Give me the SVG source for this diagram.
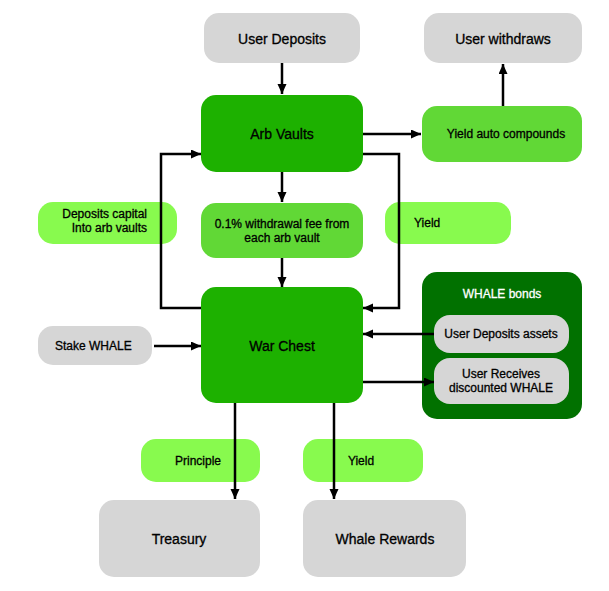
<svg xmlns="http://www.w3.org/2000/svg" width="609" height="591" viewBox="0 0 609 591">
<defs>
<marker id="ah" markerUnits="userSpaceOnUse" markerWidth="11" markerHeight="10" refX="10" refY="4.5" orient="auto">
<path d="M0,0 L10,4.5 L0,9 z" fill="#000"/>
</marker>
</defs>
<style>
text{font-family:"Liberation Sans",Arial,sans-serif;fill:#000;stroke:#000;stroke-width:0.3}
.big{font-size:14px}
.sm{font-size:12px}
.c{text-anchor:middle}
.r{text-anchor:end}
.gray{fill:#d6d6d6}
.dk{fill:#1db100}
.md{fill:#61d836}
.lt{fill:#88fa4e}
.bond{fill:#017100}
.wt{fill:#fff;stroke:#fff}
.conn path{fill:none;stroke:#000;stroke-width:2.5;marker-end:url(#ah)}
</style>
<rect width="609" height="591" fill="#fff"/>
<g id="user-deposits"><rect class="gray" x="204" y="13" width="156" height="50" rx="15"/><text class="big c" x="282" y="44">User Deposits</text></g>
<g id="user-withdraws"><rect class="gray" x="424" y="13" width="158" height="50" rx="15"/><text class="big c" x="503" y="44">User withdraws</text></g>
<g id="arb-vaults"><rect class="dk" x="201" y="95" width="162" height="77" rx="15"/><text class="big c" x="282" y="139">Arb Vaults</text></g>
<g id="yield-auto"><rect class="md" x="422" y="106" width="160" height="56" rx="15"/><text class="sm c" x="506" y="138">Yield auto compounds</text></g>
<g id="deposits-capital"><rect class="lt" x="38" y="202" width="139" height="42" rx="15"/><text class="sm r" x="147" y="218">Deposits capital</text><text class="sm r" x="147" y="232">Into arb vaults</text></g>
<g id="fee"><rect class="md" x="201" y="203" width="162" height="55" rx="15"/><text class="sm c" x="282" y="228">0.1% withdrawal fee from</text><text class="sm c" x="282" y="242">each arb vault</text></g>
<g id="yield-mid"><rect class="lt" x="385" y="202" width="126" height="42" rx="15"/><text class="sm" x="414" y="227">Yield</text></g>
<g id="war-chest"><rect class="dk" x="201" y="287" width="162" height="116" rx="15"/><text class="big c" x="282" y="351">War Chest</text></g>
<g id="whale-bonds"><rect class="bond" x="422" y="272" width="160" height="147" rx="15"/><text class="sm c wt" x="502" y="298">WHALE bonds</text>
<g id="user-deposits-assets"><rect class="gray" x="434" y="315" width="135" height="38" rx="16"/><text class="sm c" x="501" y="338">User Deposits assets</text></g>
<g id="user-receives"><rect class="gray" x="434" y="358" width="135" height="46" rx="16"/><text class="sm c" x="501" y="378">User Receives</text><text class="sm c" x="501" y="392">discounted WHALE</text></g>
</g>
<g id="stake-whale"><rect class="gray" x="38" y="326" width="114" height="39" rx="15"/><text class="sm" x="55" y="350">Stake WHALE</text></g>
<g id="principle"><rect class="lt" x="141" y="439" width="119" height="43" rx="15"/><text class="sm c" x="198" y="465">Principle</text></g>
<g id="yield-bottom"><rect class="lt" x="303" y="439" width="120" height="43" rx="15"/><text class="sm c" x="361" y="465">Yield</text></g>
<g id="treasury"><rect class="gray" x="99" y="500" width="161" height="77" rx="15"/><text class="big c" x="179" y="544">Treasury</text></g>
<g id="whale-rewards"><rect class="gray" x="303" y="500" width="163" height="77" rx="15"/><text class="big c" x="385" y="544">Whale Rewards</text></g>
<g id="connectors" class="conn">
<path d="M282,63 V94"/>
<path d="M363,134 H421"/>
<path d="M503,106 V64"/>
<path d="M282,172 V202"/>
<path d="M282,258 V287"/>
<path d="M201,308 H161 V154 H201"/>
<path d="M363,154 H399 V308 H363"/>
<path d="M154,346 H201"/>
<path d="M434,334 H363"/>
<path d="M363,382 H434"/>
<path d="M235,403 V499"/>
<path d="M334,403 V499"/>
</g>
</svg>
